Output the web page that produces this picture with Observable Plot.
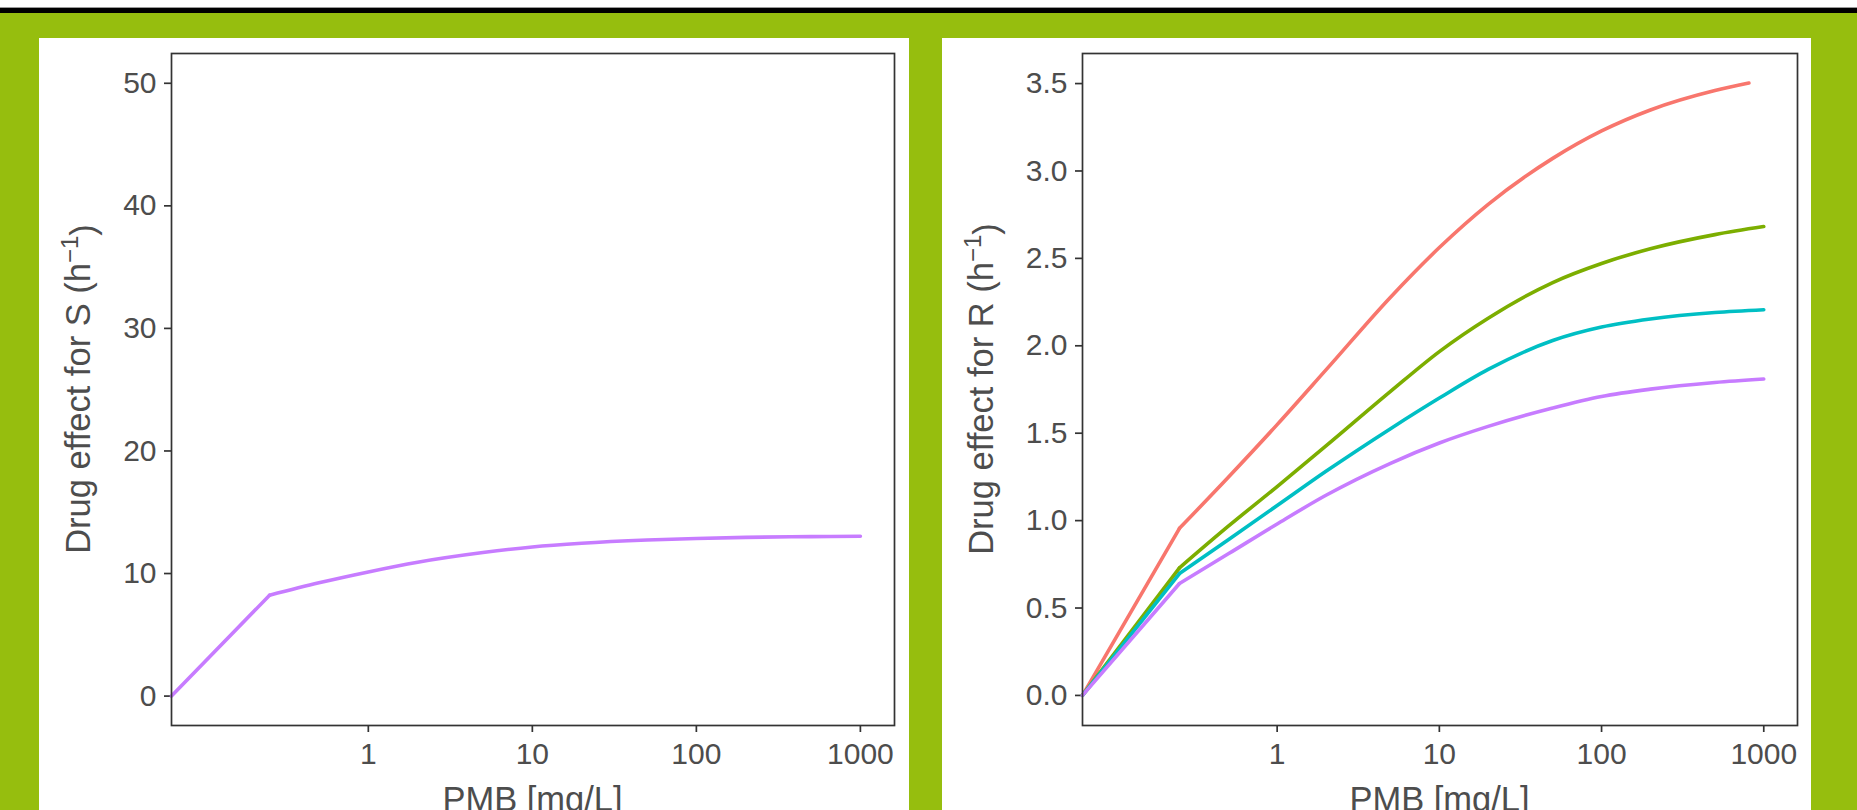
<!DOCTYPE html>
<html>
<head>
<meta charset="utf-8">
<script src="https://cdn.jsdelivr.net/npm/d3@7"></script>
<script src="https://cdn.jsdelivr.net/npm/@observablehq/plot@0.6"></script>
<style>
  html, body { margin: 0; padding: 0; background: #fff; }
  #page { position: relative; width: 1857px; height: 810px; overflow: hidden; background: #fff; }
  #topline { position: absolute; left: 0; top: 7px; width: 1857px; height: 1px; background: #9a9a9a; }
  #black { position: absolute; left: 0; top: 8px; width: 1857px; height: 5px; background: #000; }
  #green { position: absolute; left: 0; top: 13px; width: 1857px; height: 797px; background: #96be0e; }
  .panel { position: absolute; top: 38px; height: 772px; background: #fff; overflow: hidden; }
  #pl { left: 39px; width: 870px; }
  #pr { left: 942px; width: 869px; }
  .panel svg text { fill: #4d4d4d; }
  .panel svg g[aria-label$="tick"] path, .panel svg g[aria-label$="tick"] { stroke-width: 1.7px; }
</style>
</head>
<body>
<div id="page">
  <div id="topline"></div>
  <div id="black"></div>
  <div id="green"></div>
  <div class="panel" id="pl"></div>
  <div class="panel" id="pr"></div>
</div>
<script>
// ---------- data ----------
const conc     = [0, 0.25, 0.5, 1, 2, 5, 10, 20, 50, 100, 200, 500, 1000];   // PMB [mg/L]
const concRed  = [0, 0.25, 0.5, 1, 2, 5, 10, 20, 50, 100, 200, 500, 810];

// left panel: drug effect for S
const effectS  = [0, 8.23, 9.24, 10.13, 10.92, 11.71, 12.17, 12.47, 12.73, 12.86, 12.95, 13.01, 13.04];

// right panel: drug effect for R (four curves)
const seriesR  = ["R1", "R2", "R3", "R4"];
const effectR1 = [0, 0.956, 1.248, 1.549, 1.862, 2.278, 2.562, 2.809, 3.072, 3.229, 3.349, 3.46, 3.503];
const effectR2 = [0, 0.73, 0.968, 1.195, 1.427, 1.739, 1.967, 2.158, 2.362, 2.471, 2.555, 2.636, 2.682];
const effectR3 = [0, 0.697, 0.891, 1.086, 1.282, 1.526, 1.701, 1.865, 2.03, 2.107, 2.153, 2.19, 2.206];
const effectR4 = [0, 0.64, 0.81, 0.981, 1.145, 1.328, 1.444, 1.539, 1.644, 1.71, 1.752, 1.79, 1.81];
const colorsR  = ["#F8766D", "#7CAE00", "#00BFC4", "#C77CFF"];
const colorS   = "#C77CFF";

const xTicks   = [1, 10, 100, 1000];
const yTicksS  = [0, 10, 20, 30, 40, 50];
const yTicksR  = [0, 0.5, 1, 1.5, 2, 2.5, 3, 3.5];

const xLabel   = "PMB [mg/L]";
const yLabelS  = "Drug effect for S (h";
const yLabelR  = "Drug effect for R (h";

// ---------- tables ----------
const dataS = conc.map((c, i) => ({conc: c, effect: effectS[i], series: "S"}));
const seriesValues = [effectR1, effectR2, effectR3, effectR4];
const dataR = seriesR.flatMap((s, k) => {
  const cs = k === 0 ? concRed : conc;
  return cs.map((c, i) => ({conc: c, effect: seriesValues[k][i], series: s}));
});

// ---------- layout ----------
const xDomain = [Math.pow(10, -1.2), Math.pow(10, 3.208)];
const H = 780, MT = 15, MB = 93;
const tickFont = 30, titleFont = 34.5;
const X = d => (d.conc > 0 ? d.conc : xDomain[0]); // concentration 0 sits on the panel edge (log scale)

function build(el, {data, yDomain, yTicks, yFormat, ml, mr, width, ylab, color}) {
  const lineOpts = {x: X, y: "effect", z: "series", strokeWidth: 3.6, strokeLinecap: "round", strokeLinejoin: "round"};
  const stroke = color ? {stroke: "series"} : {stroke: colorS};
  const svg = Plot.plot({
    width, height: H,
    marginLeft: ml, marginRight: mr, marginTop: MT, marginBottom: MB,
    style: {fontSize: tickFont + "px", fontFamily: "'Liberation Sans', Arial, sans-serif", color: "#333", background: "transparent", overflow: "visible"},
    x: {type: "log", domain: xDomain, ticks: xTicks, tickFormat: d => String(d), tickSize: 7, tickPadding: 10, label: null},
    y: {domain: yDomain, ticks: yTicks, tickFormat: yFormat, tickSize: 7, tickPadding: 8, label: null},
    color: color ? {domain: seriesR, range: colorsR} : undefined,
    marks: [
      Plot.line(data.filter(d => d.conc <= 0.25), {...lineOpts, ...stroke, curve: "linear"}),
      Plot.line(data.filter(d => d.conc >= 0.25), {...lineOpts, ...stroke, curve: "monotone-x"}),
      Plot.frame({stroke: "#333", strokeWidth: 1.7})
    ]
  });
  const s = d3.select(svg);
  const plotW = width - ml - mr, plotH = H - MT - MB;
  // x title
  s.append("text")
    .attr("x", ml + plotW / 2).attr("y", 773)
    .attr("text-anchor", "middle")
    .style("font-size", titleFont + "px").style("fill", "#4d4d4d")
    .text(xLabel);
  // y title with superscript
  const t = s.append("text")
    .attr("transform", `translate(51,${MT + plotH / 2}) rotate(-90)`)
    .attr("text-anchor", "middle")
    .style("font-size", titleFont + "px").style("fill", "#4d4d4d");
  t.append("tspan").text(ylab);
  t.append("tspan").attr("dy", "-0.5em").style("font-size", "24px").text("\u22121");
  t.append("tspan").attr("dy", "0.5em").text(")");
  document.getElementById(el).appendChild(svg);
}

build("pl", {data: dataS, yDomain: [-2.4, 52.43], yTicks: yTicksS, yFormat: d3.format("d"), ml: 132, mr: 15, width: 870, ylab: yLabelS, color: false});
build("pr", {data: dataR, yDomain: [-0.172, 3.672], yTicks: yTicksR, yFormat: d3.format(".1f"), ml: 140, mr: 14, width: 869, ylab: yLabelR, color: true});
</script>
</body>
</html>
